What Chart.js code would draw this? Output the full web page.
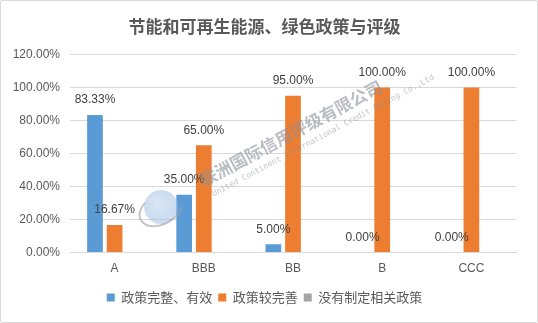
<!DOCTYPE html>
<html>
<head>
<meta charset="utf-8">
<script src="https://cdn.jsdelivr.net/npm/chart.js@4.4.0/dist/chart.umd.min.js"></script>
<style>
  html, body { margin: 0; padding: 0; background: #fff; }
  #wrap { position: relative; width: 536px; height: 321px; border: 1px solid #d9d9d9; border-radius: 2px; }
  canvas { display: block; }
</style>
</head>
<body>
<div id="wrap"><canvas id="c" width="536" height="321"></canvas></div>
<script>
// Rating grades and share of issuers per policy level (percent)
const categories = ['A', 'BBB', 'BB', 'B', 'CCC'];
const policyEffective = [83.33, 35.00, 5.00, 0.00, 0.00];
const policyImproved = [16.67, 65.00, 95.00, 100.00, 100.00];
const policyNone = [0, 0, 0, 0, 0];
const seriesNames = ['政策完整、有效', '政策较完善', '没有制定相关政策'];
const yTickValues = [0, 20, 40, 60, 80, 100, 120];
const titleText = '节能和可再生能源、绿色政策与评级';
const watermarkCn = '联洲国际信用评级有限公司';
const watermarkEn = 'United Continent International Credit Rating Co.,Ltd';

const FONT = '"Liberation Sans", "Noto Sans CJK SC", sans-serif';
const CJK = '"Noto Sans CJK SC", "Liberation Sans", sans-serif';
const labelledSeries = [0, 1];

// value labels above the bars
const valueLabels = {
  id: 'valueLabels',
  afterDatasetsDraw(chart) {
    const ctx = chart.ctx;
    ctx.save();
    ctx.font = '12px ' + FONT;
    ctx.fillStyle = '#404040';
    ctx.textAlign = 'center';
    ctx.textBaseline = 'middle';
    labelledSeries.forEach(i => {
      const meta = chart.getDatasetMeta(i);
      const values = chart.data.datasets[i].data;
      meta.data.forEach((bar, j) => {
        ctx.fillText(values[j].toFixed(2) + '%', bar.x, bar.y - 15);
      });
    });
    ctx.restore();
  }
};

// company watermark laid across the plot
const watermark = {
  id: 'watermark',
  afterDatasetsDraw(chart) {
    const ctx = chart.ctx;
    ctx.save();
    // globe emblem
    ctx.translate(160, 206);
    const g = ctx.createRadialGradient(-4, -4, 2, 0, 0, 19);
    g.addColorStop(0, 'rgba(190,212,238,0.6)');
    g.addColorStop(1, 'rgba(140,178,222,0.45)');
    ctx.fillStyle = g;
    ctx.beginPath();
    ctx.arc(0, 0, 17, 0, Math.PI * 2);
    ctx.fill();
    ctx.strokeStyle = 'rgba(160,160,165,0.6)';
    ctx.lineWidth = 2;
    ctx.beginPath();
    ctx.ellipse(0, 2, 23, 15, -0.5, 0.6, 4.2);
    ctx.stroke();
    ctx.restore();

    ctx.save();
    ctx.translate(203, 186);
    ctx.rotate(-0.49);
    ctx.textAlign = 'left';
    ctx.textBaseline = 'alphabetic';
    ctx.fillStyle = 'rgba(140,145,155,0.6)';
    ctx.font = 'bold 17px ' + CJK;
    ctx.fillText(watermarkCn, 0, 0);
    ctx.font = '8px "DejaVu Sans Mono", monospace';
    ctx.fillStyle = 'rgba(140,145,155,0.55)';
    ctx.fillText(watermarkEn, 4, 13);
    ctx.restore();
  }
};

new Chart(document.getElementById('c'), {
  type: 'bar',
  data: {
    labels: categories,
    datasets: [
      { label: seriesNames[0], data: policyEffective, backgroundColor: '#5B9BD5' },
      { label: seriesNames[1], data: policyImproved, backgroundColor: '#ED7D31' },
      { label: seriesNames[2], data: policyNone, backgroundColor: '#A5A5A5' }
    ]
  },
  options: {
    responsive: false,
    animation: false,
    events: [],
    categoryPercentage: 0.66,
    barPercentage: 0.8,
    layout: { padding: { left: 12, right: 21, top: 0, bottom: 8 } },
    plugins: {
      title: {
        display: true,
        text: titleText,
        color: '#595959',
        font: { family: CJK, size: 17, weight: 'bold' },
        padding: { top: 15, bottom: 18 }
      },
      legend: {
        position: 'bottom',
        labels: {
          color: '#595959',
          font: { family: CJK, size: 13 },
          boxWidth: 8,
          boxHeight: 8,
          padding: 6
        }
      },
      tooltip: { enabled: false }
    },
    scales: {
      x: {
        grid: { display: false, drawTicks: false },
        border: { display: true, color: '#d9d9d9' },
        ticks: { color: '#595959', font: { family: FONT, size: 12 }, padding: 9 }
      },
      y: {
        min: 0,
        max: 120,
        afterBuildTicks(scale) { scale.ticks = yTickValues.map(v => ({ value: v })); },
        afterFit(scale) { scale.width = 57; },
        grid: { color: '#d9d9d9', drawTicks: false },
        border: { display: false },
        ticks: {
          color: '#595959',
          font: { family: FONT, size: 12 },
          padding: 10,
          callback: v => v.toFixed(2) + '%'
        }
      }
    }
  },
  plugins: [valueLabels, watermark]
});
</script>
</body>
</html>
